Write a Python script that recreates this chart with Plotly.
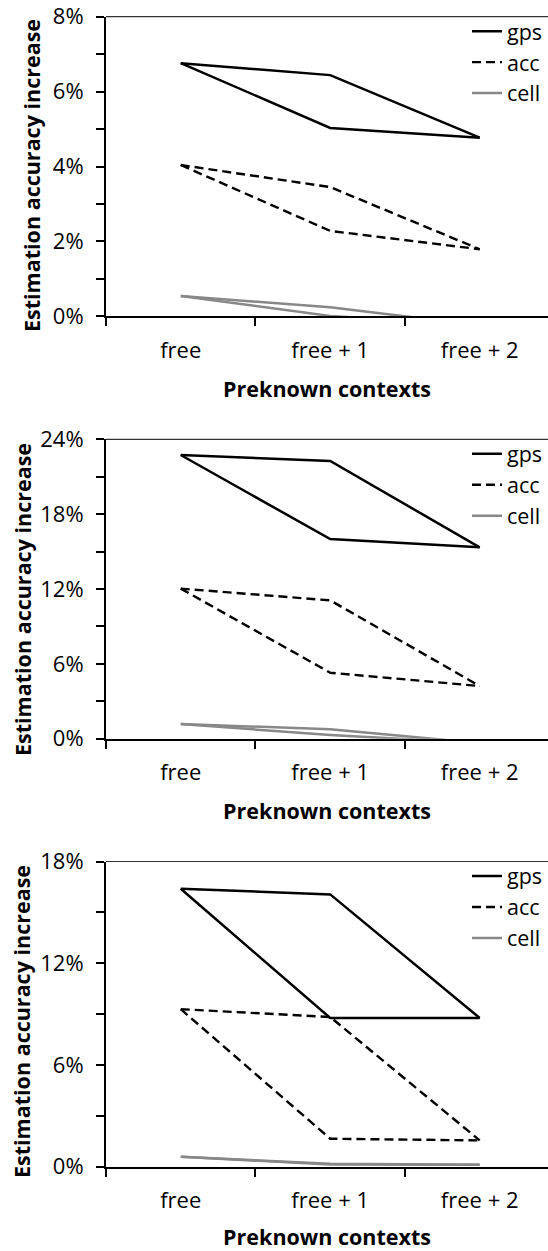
import plotly.graph_objects as go

# ---------------- data ----------------
categories = ["free", "free + 1", "free + 2"]
series_names = ["gps", "acc", "cell"]

# panel 1 (upper path / lower path for each series), values in %
p1_gps_a = [6.76, 6.44, 4.77]
p1_gps_b = [6.76, 5.03, 4.77]
p1_acc_a = [4.04, 3.45, 1.79]
p1_acc_b = [4.04, 2.28, 1.79]
p1_cell_a = [0.54, 0.24, -0.24]
p1_cell_b = [0.54, 0.01, -0.24]

# panel 2
p2_gps_a = [22.74, 22.26, 15.34]
p2_gps_b = [22.74, 16.00, 15.34]
p2_acc_a = [12.03, 11.09, 4.22]
p2_acc_b = [12.03, 5.29, 4.22]
p2_cell_a = [1.18, 0.75, -0.35]
p2_cell_b = [1.18, 0.29, -0.35]

# panel 3
p3_gps_a = [16.39, 16.06, 8.77]
p3_gps_b = [16.39, 8.77, 8.77]
p3_acc_a = [9.29, 8.83, 1.55]
p3_acc_b = [9.29, 1.65, 1.55]
p3_cell_a = [0.59, 0.17, 0.12]
p3_cell_b = [0.59, 0.13, 0.12]

p1_ticks = [0, 2, 4, 6, 8]
p2_ticks = [0, 6, 12, 18, 24]
p3_ticks = [0, 6, 12, 18]

x_title = "Preknown contexts"
y_title = "Estimation accuracy increase"

# ---------------- styling ----------------
W, H = 548, 1251
FONT = "Open Sans"
TICK_SIZE = 22
LEGEND_SIZE = 21.5
TITLE_SIZE = 21.5
styles = {
    "gps": dict(color="#000000", width=2.5, dash="solid"),
    "acc": dict(color="#000000", width=2.4, dash="9px,5px"),
    "cell": dict(color="#888888", width=2.5, dash="solid"),
}

panels = [
    dict(data={"gps": (p1_gps_a, p1_gps_b), "acc": (p1_acc_a, p1_acc_b), "cell": (p1_cell_a, p1_cell_b)},
         ticks=p1_ticks, minor=1, top=16.7, bottom=316.3, title_x=31, title_y=176),
    dict(data={"gps": (p2_gps_a, p2_gps_b), "acc": (p2_acc_a, p2_acc_b), "cell": (p2_cell_a, p2_cell_b)},
         ticks=p2_ticks, minor=3, top=439.3, bottom=738.7, title_x=22, title_y=600),
    dict(data={"gps": (p3_gps_a, p3_gps_b), "acc": (p3_acc_a, p3_acc_b), "cell": (p3_cell_a, p3_cell_b)},
         ticks=p3_ticks, minor=3, top=861.5, bottom=1166.7, title_x=22, title_y=1022),
]

fig = go.Figure()
x_left = 106 / W
layout = {}
shapes = []
annotations = []
for i, p in enumerate(panels):
    k = "" if i == 0 else str(i + 1)
    legend_name = "legend" + k
    for name in series_names:
        a, b = p["data"][name]
        for j, vals in enumerate((a, b)):
            fig.add_trace(go.Scatter(
                x=categories, y=vals, mode="lines", name=name,
                line=styles[name], legendgroup=name + k,
                showlegend=(j == 0), legend=legend_name,
                xaxis="x" + k, yaxis="y" + k, hoverinfo="skip",
            ))
    dom = [(H - p["bottom"]) / H, (H - p["top"]) / H]
    layout["xaxis" + k] = dict(
        domain=[x_left, 1], anchor="y" + k, type="category",
        categoryorder="array", categoryarray=categories,
        range=[-0.5, 2.457], tickson="boundaries", ticks="outside",
        ticklen=8, tickwidth=1.5, tickcolor="black",
        showline=True, linecolor="black", linewidth=2,
        showgrid=False, zeroline=False,
        tickfont=dict(family=FONT, size=TICK_SIZE, color="black"),
        ticklabelstandoff=13,
        title=dict(text="<b>" + x_title + "</b>", standoff=19,
                   font=dict(family=FONT, size=TITLE_SIZE, color="black")),
        fixedrange=True,
    )
    top_v = p["ticks"][-1]
    layout["yaxis" + k] = dict(
        domain=dom, anchor="x" + k, range=[0, top_v],
        tickmode="array", tickvals=p["ticks"],
        ticktext=[f"{v}%" for v in p["ticks"]], ticks="outside",
        ticklen=8, tickwidth=1.5, tickcolor="black",
        minor=dict(tickmode="linear", dtick=p["minor"], ticks="outside",
                   ticklen=8, tickwidth=1.5, tickcolor="black", showgrid=False),
        showline=True, linecolor="black", linewidth=2,
        showgrid=False, zeroline=False,
        tickfont=dict(family=FONT, size=TICK_SIZE, color="black"),
        ticklabelstandoff=8,
        fixedrange=True,
    )
    annotations.append(dict(
        text="<b>" + y_title + "</b>", textangle=-90, showarrow=False,
        xref="paper", yref="paper", x=p["title_x"] / W, y=(H - p["title_y"]) / H,
        xanchor="center", yanchor="middle",
        font=dict(family=FONT, size=TITLE_SIZE, color="black"),
    ))
    layout[legend_name] = dict(
        x=467 / W, xanchor="left", xref="paper",
        y=(H - (p["top"] - 6)) / H, yanchor="top", yref="paper",
        bgcolor="rgba(0,0,0,0)", borderwidth=0,
        font=dict(family=FONT, size=LEGEND_SIZE, color="black"),
        traceorder="grouped", tracegroupgap=0, itemwidth=30,
    )
    shapes.append(dict(type="line", xref="paper", yref="paper",
                       x0=x_left, x1=1, y0=dom[1], y1=dom[1],
                       line=dict(color="#333333", width=1.2)))

fig.update_layout(
    width=W, height=H,
    margin=dict(l=0, r=0, t=0, b=0, autoexpand=False),
    paper_bgcolor="white", plot_bgcolor="white",
    font=dict(family=FONT, color="black"),
    shapes=shapes, annotations=annotations,
    **layout,
)

fig.write_html("out.html")
